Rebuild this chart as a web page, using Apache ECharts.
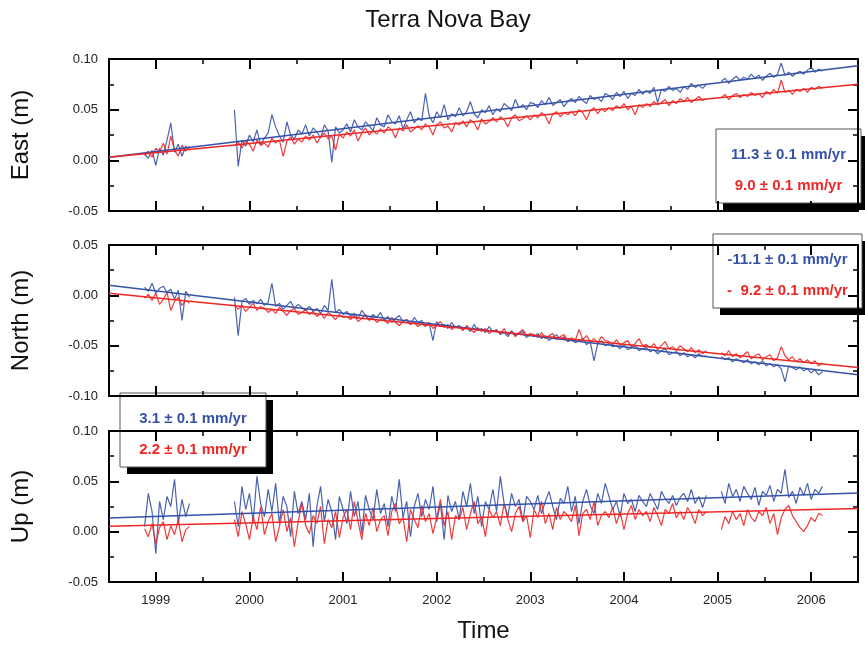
<!DOCTYPE html>
<html>
<head>
<meta charset="utf-8">
<script src="https://cdn.jsdelivr.net/npm/echarts@6/dist/echarts.min.js"></script>
<style>
  html, body { margin: 0; padding: 0; background: #fff; }
  #chart { width: 865px; height: 646px; }
</style>
</head>
<body>
<div id="chart"></div>
<script>
// GPS sampling: 0.04 yr steps, three segments of continuous data (mm)
const segStart = [1998.88, 1999.84, 2005.04];
const step = 0.04;

const yearTicks = [1999, 2000, 2001, 2002, 2003, 2004, 2005, 2006];
const fitYears = [1998.5, 2006.5];

// East (mm)
const eastBlue = [
  [6, 2, 10, -5, 12, 5, 20, 37, 8, 16, 4, 14, 10],
  [50, -6, 20, 14, 25, 18, 30, 15, 22, 27,
   45, 33, 24, 18, 38, 25, 21, 30, 26, 35,
   24, 32, 28, 22, 35, 29, -2, 33, 27, 30,
   36, 28, 40, 33, 30, 38, 34, 29, 42, 35,
   33, 45, 38, 36, 44, 31, 40, 48, 37, 42,
   39, 66, 44, 37, 48, 42, 55, 40, 46, 43,
   52, 44, 48, 58, 46, 42, 50, 47, 54, 45,
   51, 48, 56, 53, 49, 60, 52, 55, 50, 57,
   56, 52, 59, 55, 62, 54, 57, 60, 53, 58,
   61, 57, 63, 59, 56, 64, 60, 62, 58, 66,
   64, 60, 67, 63, 68, 61, 66, 64, 70, 65,
   69, 66, 72, 57, 70, 68, 73, 69, 71, 67,
   73, 70, 76, 72, 74, 71, 75],
  [78, 81, 76, 80, 83, 79, 82, 80, 85, 81,
   84, 79, 83, 86, 82, 85, 96, 84, 87, 83,
   86, 88, 85, 89, 92, 87, 90, 88]
];
const eastRed = [
  [5, 9, 3, 12, 8, 17, 6, 24, 10, 4, 15, 9, 14],
  [14, 18, 12, 19, 16, 9, 20, 15, 17, 13,
   22, 17, 20, 4, 19, 23, 16, 21, 18, 24,
   20, 25, 17, 23, 27, 21, 24, 10, 26, 22,
   28, 24, 30, 19, 27, 32, 25, 29, 26, 31,
   27, 33, 30, 22, 32, 29, 35, 28, 31, 34,
   30, 36, 33, 25, 35, 38, 32, 34, 28, 37,
   35, 39, 33, 40, 37, 30, 41, 36, 38, 42,
   38, 43, 40, 33, 42, 45, 39, 41, 44, 40,
   45, 42, 47, 44, 36, 46, 48, 43, 47, 45,
   48, 44, 50, 47, 40, 49, 52, 46, 51, 48,
   52, 49, 54, 51, 56, 50, 53, 45, 55, 52,
   56, 53, 58, 55, 57, 60, 54, 59, 56, 61,
   58, 62, 57, 60, 63, 59, 61],
  [62, 65, 60, 64, 66, 62, 65, 63, 67, 64,
   66, 62, 68, 65, 70, 66, 79, 67, 69, 65,
   70, 68, 71, 67, 72, 70, 73, 71]
];
const eastBlueFit = [3, 93.4];
const eastRedFit = [3, 75];

// North (mm)
const northBlue = [
  [8, 4, 12, 2, 7, 9, 3, 6, -4, 5, -25, 4, -2],
  [-2, -40, -6, -3, -9, -5, -8, -4, -10, -7,
   12, -11, -8, -14, -10, -6, -13, -9, -12, -15,
   -11, -16, -13, -18, -10, -15, 16, -17, -14, -19,
   -16, -21, -18, -23, -15, -20, -24, -19, -22, -17,
   -25, -21, -27, -23, -20, -26, -24, -29, -22, -27,
   -25, -30, -28, -45, -26, -31, -29, -33, -27, -32,
   -30, -34, -32, -36, -29, -35, -33, -37, -31, -36,
   -34, -39, -37, -41, -35, -40, -38, -36, -42, -39,
   -41, -38, -43, -40, -45, -42, -39, -44, -41, -46,
   -44, -47, -45, -43, -49, -46, -65, -48, -45, -50,
   -48, -51, -50, -53, -49, -54, -52, -50, -55, -53,
   -52, -56, -54, -58, -55, -53, -59, -57, -56, -60,
   -57, -61, -59, -62, -58, -61, -60],
  [-61, -64, -62, -66, -63, -65, -67, -64, -68, -66,
   -69, -65, -70, -68, -71, -69, -73, -86, -70, -72,
   -74, -71, -75, -73, -77, -74, -79, -76]
];
const northRed = [
  [-3, 1, -5, 2, -9, -4, 3, -15, -6, -2, -10, -5, -8],
  [-9, -14, -10, -16, -12, -8, -15, -11, -13, -17,
   -14, -18, -12, -16, -20, -15, -13, -19, -17, -14,
   -19, -16, -21, -18, -23, -17, -20, -24, -19, -22,
   -21, -24, -20, -26, -23, -19, -25, -22, -27, -24,
   -25, -28, -22, -27, -30, -26, -24, -29, -27, -31,
   -28, -31, -27, -33, -30, -26, -32, -29, -34, -31,
   -31, -35, -30, -34, -37, -32, -36, -33, -38, -35,
   -35, -38, -33, -39, -36, -41, -37, -34, -40, -38,
   -39, -42, -37, -43, -40, -38, -44, -41, -39, -45,
   -42, -45, -34, -44, -40, -46, -43, -47, -41, -45,
   -46, -49, -44, -50, -47, -45, -51, -48, -43, -50,
   -49, -52, -48, -54, -50, -46, -53, -51, -55, -50,
   -53, -56, -52, -57, -54, -58, -55],
  [-57, -60, -55, -61, -58, -62, -59, -56, -63, -60,
   -58, -64, -61, -59, -65, -62, -51, -60, -64, -61,
   -66, -63, -67, -64, -68, -65, -70, -67]
];
const northBlueFit = [10, -78.8];
const northRedFit = [2, -71.6];

// Up (mm)
const upBlue = [
  [5, 38, 20, -22, 30, 12, 35, 25, 52, 8, 32, 15, 28],
  [30, 5, 45, 22, 38, 10, 55, 28, 15, 42,
   20, 48, 8, 35, 25, -5, 40, 18, 30, 12,
   38, -15, 25, 45, 10, 32, 20, -8, 35, 22,
   8, 40, 15, 30, -2, 36, 22, 12, 42, 18,
   28, 5, 35, 20, 52, 14, 30, -5, 25, 38,
   15, 32, 22, 45, 10, 28, -8, 36, 20, 30,
   12, 40, 25, 48, 18, 35, 5, 30, 22, 42,
   20, 55, 28, 15, 38, 25, 32, 10, 35, 30,
   22, 36, 18, 30, 40, 25, 12, 33, 28, 45,
   20, 35, 8, 30, 42, 26, 18, 38, 28, 48,
   35, 22, 30, 15, 38, 28, 32, 20, 36, 30,
   25, 38, 30, 22, 40, 33, 28, 36, 26, 34,
   38, 30, 42, 28, 35, 24, 36],
  [40, 28, 48, 35, 42, 30, 45, 38, 32, 44,
   26, 40, 36, 46, 30, 42, 38, 62, 34, 40,
   28, 44, 36, 48, 32, 42, 38, 45]
];
const upRed = [
  [3, -5, 8, -12, 4, 10, -8, 6, -3, 12, -10, 2, 5],
  [12, -5, 20, 8, -8, 15, 2, 25, -3, 10,
   18, -10, 5, 22, 0, 14, -15, 10, 28, 6,
   -2, 16, 8, 25, -12, 12, 4, 20, -6, 14,
   22, 2, 30, 10, -8, 18, 6, 24, 0, 12,
   16, -4, 20, 28, 8, 14, -10, 22, 12, 4,
   26, 10, 18, -2, 14, 32, 6, 20, -8, 16,
   12, 24, 2, 18, 30, 8, 15, -5, 22, 14,
   20, 6, 28, 12, 0, 18, 25, 10, 16, -6,
   22, 14, 30, 8, 18, 2, 24, 12, 20, 16,
   10, 26, -4, 18, 22, 12, 30, 6, 16, 20,
   14, 24, 8, 20, 2, 18, 26, 12, 22, 16,
   20, 10, 24, 16, 6, 22, 18, 28, 14, 20,
   12, 24, 18, 8, 22, 16, 20],
  [2, 15, 8, 20, 12, 18, 6, 22, 14, 10,
   20, 16, 24, 8, 18, -3, 14, 22, 26, 16,
   10, 4, 0, 6, 14, 10, 18, 16]
];
const upBlueFit = [13.5, 38.3];
const upRedFit = [5.5, 23.1];

const BLUE = '#3652a8';
const RED = '#ee2626';
const FONT = 'Arial, "Liberation Sans", sans-serif';

let chart = echarts.init(document.getElementById('chart'));

// segments -> [year, metres], '-' between segments breaks the line
function toPoints(segs) {
  let pts = [];
  segs.forEach(function (seg, k) {
    if (k > 0) pts.push([segStart[k] - step / 2, '-']);
    seg.forEach(function (v, j) {
      pts.push([+(segStart[k] + j * step).toFixed(2), v / 1000]);
    });
  });
  return pts;
}
function fitPoints(vals) {
  return fitYears.map(function (y, i) { return [y, vals[i] / 1000]; });
}

const grids = [
  { left: 109, right: 7, top: 59, height: 152 },
  { left: 109, right: 7, top: 245, height: 151 },
  { left: 109, right: 7, top: 431, height: 151 }
];
const yRanges = [[-0.05, 0.10], [-0.10, 0.05], [-0.05, 0.10]];
const yNames = ['East (m)', 'North (m)', 'Up (m)'];

let xAxis = [], yAxis = [];
const black = { color: '#000', width: 2 };
grids.forEach(function (g, i) {
  ['bottom', 'top'].forEach(function (pos) {
    // year ticks (long)
    xAxis.push({
      gridIndex: i, type: 'value', min: 1998.5, max: 2006.5, position: pos,
      axisLine: { onZero: false, lineStyle: black },
      axisTick: { inside: true, length: 10, customValues: yearTicks, lineStyle: black },
      axisLabel: {
        show: i === 2 && pos === 'bottom', customValues: yearTicks, margin: 12,
        fontSize: 13, color: '#222', fontFamily: FONT,
        formatter: function (v) { return String(Math.round(v)); }
      },
      splitLine: { show: false },
      name: (i === 2 && pos === 'bottom') ? 'Time' : '',
      nameLocation: 'middle', nameGap: 37,
      nameTextStyle: { fontSize: 24, color: '#111', fontFamily: FONT }
    });
    // half-year ticks (short)
    xAxis.push({
      gridIndex: i, type: 'value', min: 1998.5, max: 2006.5, interval: 0.5, position: pos,
      axisLine: { show: false, onZero: false },
      axisTick: { inside: true, length: 5, lineStyle: { color: '#000', width: 1.5 } },
      axisLabel: { show: false },
      splitLine: { show: false }
    });
  });
  ['left', 'right'].forEach(function (pos) {
    yAxis.push({
      gridIndex: i, type: 'value', min: yRanges[i][0], max: yRanges[i][1], interval: 0.05,
      position: pos,
      axisLine: { show: true, onZero: false, lineStyle: black },
      axisTick: { show: true, inside: true, length: 10, lineStyle: black },
      minorTick: { show: true, splitNumber: 2, length: 5, lineStyle: { color: '#000', width: 1.5 } },
      axisLabel: {
        show: pos === 'left', margin: 11, fontSize: 13, color: '#222', fontFamily: FONT,
        formatter: function (v) { return v.toFixed(2); }
      },
      splitLine: { show: false },
      name: pos === 'left' ? yNames[i] : '',
      nameLocation: 'middle', nameGap: 76,
      nameTextStyle: { fontSize: 24, color: '#111', fontFamily: FONT }
    });
  });
});

function dataSeries(i, data, color) {
  return {
    type: 'line', xAxisIndex: i * 4, yAxisIndex: i * 2, data: data,
    symbol: 'none', connectNulls: false,
    lineStyle: { color: color, width: 1.2, opacity: 0.9 }
  };
}
function fitSeries(i, data, color) {
  return {
    type: 'line', xAxisIndex: i * 4, yAxisIndex: i * 2, data: data,
    symbol: 'none', lineStyle: { color: color, width: 1.5 }, z: 3
  };
}

const series = [
  dataSeries(0, toPoints(eastBlue), BLUE),
  dataSeries(0, toPoints(eastRed), RED),
  fitSeries(0, fitPoints(eastBlueFit), BLUE),
  fitSeries(0, fitPoints(eastRedFit), RED),
  dataSeries(1, toPoints(northBlue), BLUE),
  dataSeries(1, toPoints(northRed), RED),
  fitSeries(1, fitPoints(northBlueFit), BLUE),
  fitSeries(1, fitPoints(northRedFit), RED),
  dataSeries(2, toPoints(upBlue), BLUE),
  dataSeries(2, toPoints(upRed), RED),
  fitSeries(2, fitPoints(upBlueFit), BLUE),
  fitSeries(2, fitPoints(upRedFit), RED)
];

// rate boxes with drop shadow
function rateBox(x, y, w, h, blueText, redText) {
  const txt = function (t, ty, color) {
    return {
      type: 'text', x: x + w / 2, y: ty,
      style: {
        text: t, fill: color, font: 'bold 15px ' + FONT,
        align: 'center', verticalAlign: 'middle',
        textAlign: 'center', textVerticalAlign: 'middle'
      }
    };
  };
  return {
    type: 'group', z: 100,
    children: [
      { type: 'rect', shape: { x: x + 7, y: y + 7, width: w, height: h }, style: { fill: '#000' } },
      { type: 'rect', shape: { x: x, y: y, width: w, height: h }, style: { fill: '#fff', stroke: '#555', lineWidth: 1 } },
      txt(blueText, y + 26, BLUE),
      txt(redText, y + 57, RED)
    ]
  };
}

let option = {
  animation: false,
  backgroundColor: '#fff',
  title: {
    text: 'Terra Nova Bay', left: 443, top: 3, textAlign: 'center',
    textStyle: { fontSize: 24, fontWeight: 'normal', color: '#111', fontFamily: FONT }
  },
  grid: grids,
  xAxis: xAxis,
  yAxis: yAxis,
  series: series,
  graphic: [
    rateBox(716, 129, 145, 74, '11.3 \u00b1 0.1 mm/yr', '9.0 \u00b1 0.1 mm/yr'),
    rateBox(713, 234, 149, 74, '-11.1 \u00b1 0.1 mm/yr', '-  9.2 \u00b1 0.1 mm/yr'),
    rateBox(120, 393, 146, 74, '3.1 \u00b1 0.1 mm/yr', '2.2 \u00b1 0.1 mm/yr')
  ]
};
chart.setOption(option);
</script>
</body>
</html>
